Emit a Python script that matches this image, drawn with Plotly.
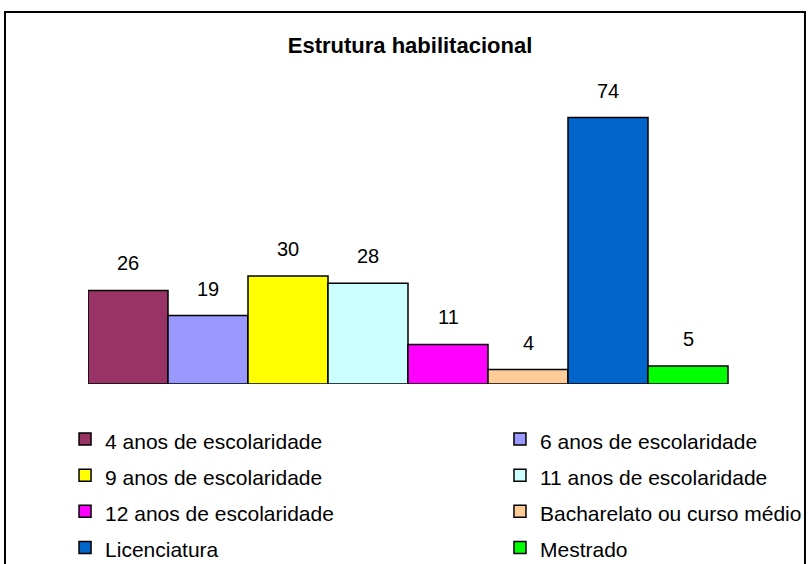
import plotly.graph_objects as go

# Chart data
categories = [
    "4 anos de escolaridade",
    "6 anos de escolaridade",
    "9 anos de escolaridade",
    "11 anos de escolaridade",
    "12 anos de escolaridade",
    "Bacharelato ou curso médio",
    "Licenciatura",
    "Mestrado",
]
values = [26, 19, 30, 28, 11, 4, 74, 5]
colors = ["#993366", "#9999FF", "#FFFF00", "#CCFFFF",
          "#FF00FF", "#FFCC99", "#0066CC", "#00FF00"]

FONT = "Liberation Sans, Arial, sans-serif"

fig = go.Figure()

for i, (name, val, col) in enumerate(zip(categories, values, colors)):
    fig.add_trace(go.Bar(
        x=[i],
        y=[val],
        width=1,
        name=f'<span style="font-size:21px">{name}</span>',
        marker=dict(color=col, line=dict(color="black", width=1.5)),
        hoverinfo="y",
        # two legend columns: left gets even entries, right gets odd ones
        legend="legend" if i % 2 == 0 else "legend2",
    ))
    # value label above each bar
    fig.add_annotation(
        x=i, y=val, text=str(val), showarrow=False,
        yanchor="middle", yshift=27,
        font=dict(size=20, color="black", family=FONT),
    )

# outer frame of the chart area
fig.add_shape(
    type="rect", xref="paper", yref="paper",
    x0=-0.1153, x1=0.9958, y0=-0.65, y1=1.2917,
    line=dict(color="black", width=2), fillcolor="rgba(0,0,0,0)",
    layer="below",
)

legend_common = dict(
    orientation="v",
    y=-0.1111, yanchor="top",
    xanchor="left",
    font=dict(size=25.5, family=FONT, color="black"),
    bgcolor="rgba(0,0,0,0)",
    traceorder="normal",
)

fig.update_layout(
    width=808,
    height=564,
    barmode="overlay",
    plot_bgcolor="white",
    paper_bgcolor="white",
    font=dict(family=FONT, color="black"),
    title=dict(
        text="<b>Estrutura habilitacional</b>",
        x=410 / 808, xanchor="center", y=1 - 45 / 564, yanchor="middle",
        font=dict(size=22, family=FONT, color="black"),
    ),
    xaxis=dict(range=[-0.5, 8.5], visible=False, fixedrange=True),
    yaxis=dict(range=[0, 80], visible=False, fixedrange=True),
    margin=dict(l=88, r=0, t=96, b=180, pad=0, autoexpand=False),
    showlegend=True,
    legend=dict(x=-0.0319, **legend_common),
    legend2=dict(x=0.5722, **legend_common),
)

fig.write_html(
    "out.html",
    config={"displayModeBar": False},
    post_script="document.body.style.margin='0';",
)
